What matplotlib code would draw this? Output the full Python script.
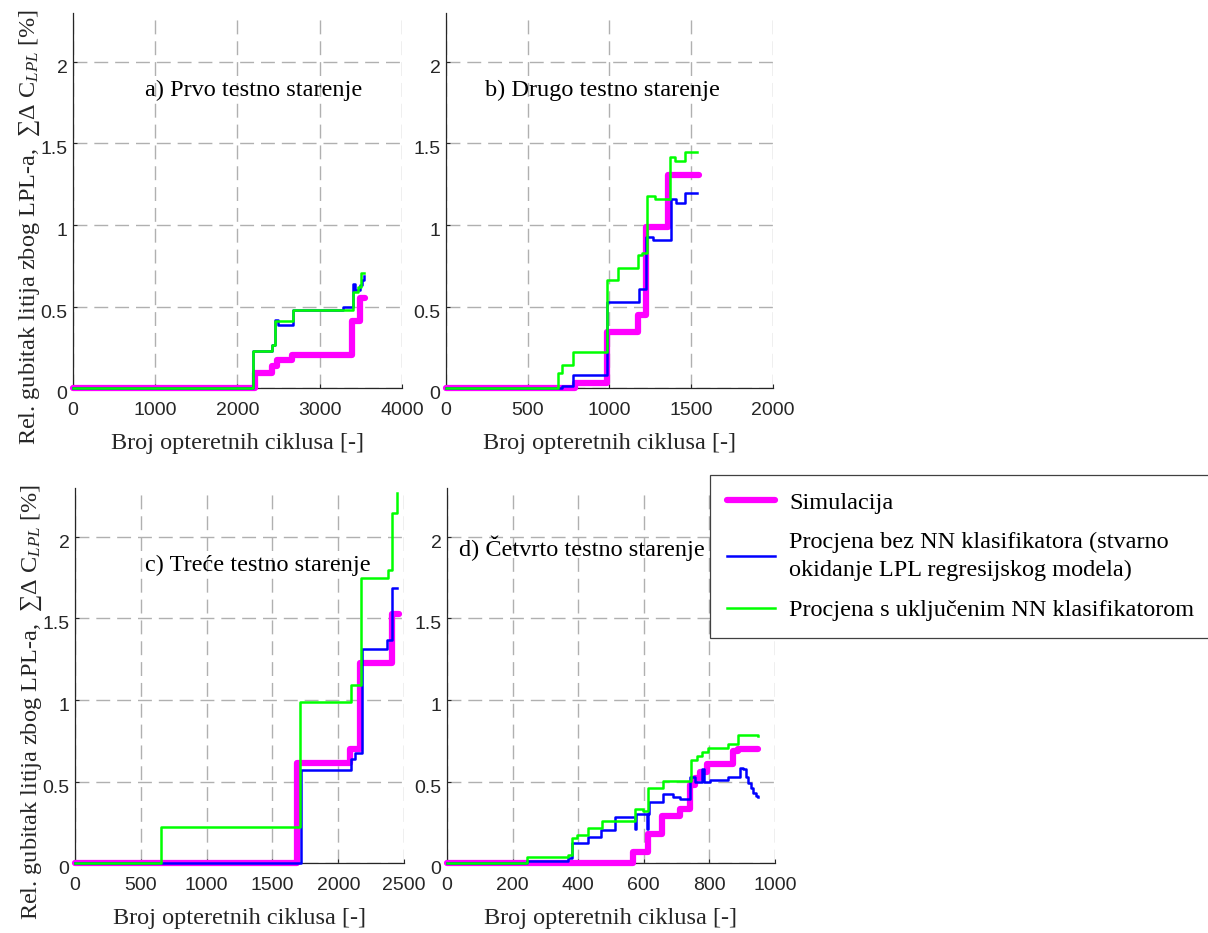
import matplotlib.pyplot as plt
from matplotlib.ticker import FormatStrFormatter
from matplotlib.lines import Line2D
from matplotlib.transforms import ScaledTranslation

plt.rcParams['mathtext.fontset'] = 'custom'
plt.rcParams['mathtext.rm'] = 'Liberation Serif'
plt.rcParams['mathtext.it'] = 'Liberation Serif:italic'

SERIF = ['Liberation Serif', 'DejaVu Serif']
SANS = ['Liberation Sans', 'DejaVu Sans']

# a) Prvo testno starenje
sim_a_x = [0, 2213, 2416, 2476, 2659, 3388, 3489, 3550]
sim_a_y = [0, 0.09, 0.135, 0.17, 0.20, 0.41, 0.555, 0.555]
bez_a_x = [0, 2192, 2416, 2456, 2497, 2679, 3287, 3409, 3430, 3490, 3510, 3540]
bez_a_y = [0, 0.23, 0.265, 0.42, 0.385, 0.48, 0.495, 0.64, 0.60, 0.63, 0.66, 0.69]
nn_a_x = [0, 2192, 2416, 2456, 2679, 3409, 3470, 3500, 3540]
nn_a_y = [0, 0.23, 0.265, 0.41, 0.48, 0.59, 0.62, 0.705, 0.705]

# b) Drugo testno starenje
sim_b_x = [0, 789, 983, 1176, 1223, 1360, 1549]
sim_b_y = [0, 0.03, 0.345, 0.45, 0.985, 1.307, 1.307]
bez_b_x = [0, 708, 779, 983, 1180, 1223, 1268, 1374, 1407, 1462, 1537]
bez_b_y = [0, 0.01, 0.08, 0.525, 0.607, 0.925, 0.91, 1.16, 1.137, 1.195, 1.195]
nn_b_x = [0, 687, 708, 779, 983, 1054, 1176, 1197, 1227, 1278, 1370, 1401, 1462, 1537]
nn_b_y = [0, 0.09, 0.14, 0.22, 0.66, 0.735, 0.816, 0.826, 1.18, 1.157, 1.415, 1.395, 1.45, 1.45]

# c) Treće testno starenje
sim_c_x = [0, 1689, 2090, 2165, 2406, 2464]
sim_c_y = [0, 0.613, 0.70, 1.228, 1.526, 1.526]
bez_c_x = [0, 1715, 2095, 2128, 2178, 2368, 2411, 2449]
bez_c_y = [0, 0.572, 0.64, 0.675, 1.315, 1.366, 1.684, 1.684]
nn_c_x = [0, 653, 1710, 2095, 2171, 2381, 2406, 2444, 2449]
nn_c_y = [0, 0.22, 0.986, 1.09, 1.746, 1.80, 2.148, 2.27, 2.27]

# d) Četvrto testno starenje
sim_d_x = [0, 568, 614, 655, 710, 741, 756, 771, 792, 873, 888, 949]
sim_d_y = [0, 0.07, 0.18, 0.29, 0.33, 0.48, 0.52, 0.56, 0.61, 0.685, 0.70, 0.70]
bez_d_x = [0, 243, 370, 380, 431, 469, 512, 527, 573, 577, 609, 613, 617, 658, 690,
           710, 741, 756, 777, 784, 802, 858, 893, 903, 913, 919, 926, 934, 941, 949]
bez_d_y = [0, 0.01, 0.03, 0.12, 0.16, 0.20, 0.285, 0.28, 0.21, 0.30, 0.21, 0.30, 0.377, 0.425, 0.405,
           0.39, 0.53, 0.50, 0.576, 0.50, 0.51, 0.525, 0.58, 0.575, 0.53, 0.49, 0.46, 0.43, 0.41, 0.405]
nn_d_x = [0, 243, 370, 380, 395, 431, 472, 573, 599, 614, 659, 744, 761, 777, 797, 858, 886, 949]
nn_d_y = [0, 0.035, 0.05, 0.152, 0.17, 0.213, 0.26, 0.33, 0.32, 0.46, 0.506, 0.63, 0.655, 0.68,
          0.705, 0.73, 0.787, 0.78]

panels = [
    ('a) Prvo testno starenje', sim_a_x, sim_a_y, bez_a_x, bez_a_y, nn_a_x, nn_a_y,
     [0, 1000, 2000, 3000, 4000], (0.55, 0.795)),
    ('b) Drugo testno starenje', sim_b_x, sim_b_y, bez_b_x, bez_b_y, nn_b_x, nn_b_y,
     [0, 500, 1000, 1500, 2000], (0.477, 0.795)),
    ('c) Treće testno starenje', sim_c_x, sim_c_y, bez_c_x, bez_c_y, nn_c_x, nn_c_y,
     [0, 500, 1000, 1500, 2000, 2500], (0.556, 0.795)),
    ('d) Četvrto testno starenje', sim_d_x, sim_d_y, bez_d_x, bez_d_y, nn_d_x, nn_d_y,
     [0, 200, 400, 600, 800, 1000], (0.41, 0.84)),
]
positions = [
    [0.0604, 0.5841, 0.2724, 0.4019],
    [0.3692, 0.5841, 0.2707, 0.4019],
    [0.0621, 0.0750, 0.2724, 0.4019],
    [0.3700, 0.0750, 0.2715, 0.4019],
]

c_sim, c_bez, c_nn = '#ff00ff', '#0000ff', '#00ff00'
axcol = '#262626'

fig = plt.figure(figsize=(12.08, 9.33), dpi=100)
shift_down = ScaledTranslation(0, -0.045, fig.dpi_scale_trans)

for i, (title, sx, sy, bx, by, nx, ny, xt, tpos) in enumerate(panels):
    ax = fig.add_axes(positions[i])
    ax.plot(sx, sy, drawstyle='steps-post', color=c_sim, lw=4.5,
            solid_capstyle='round', clip_on=False, zorder=3)
    ax.plot(bx, by, drawstyle='steps-post', color=c_bez, lw=1.8, clip_on=False, zorder=4)
    ax.plot(nx, ny, drawstyle='steps-post', color=c_nn, lw=1.8, clip_on=False, zorder=5)
    ax.set_xlim(xt[0], xt[-1])
    ax.set_ylim(0, 2.3)
    ax.set_xticks(xt)
    ax.set_yticks([0, 0.5, 1, 1.5, 2])
    ax.yaxis.set_major_formatter(FormatStrFormatter('%g'))
    ax.grid(True, color='#b0b0b0', lw=1, linestyle=(0, (10, 5)))
    ax.set_axisbelow(True)
    for s in ['top', 'right']:
        ax.spines[s].set_visible(False)
    for s in ['left', 'bottom']:
        ax.spines[s].set_color(axcol)
        ax.spines[s].set_linewidth(0.9)
    ax.tick_params(direction='in', length=3, colors=axcol, labelsize=14)
    ax.tick_params(axis='x', pad=10)
    ax.tick_params(axis='y', pad=4)
    for lab in ax.get_xticklabels():
        lab.set_family(SANS)
    for lab in ax.get_yticklabels():
        lab.set_family(SANS)
        lab.set_transform(lab.get_transform() + shift_down)
    ax.set_xlabel('Broj opteretnih ciklusa [-]', family=SERIF, fontsize=17.5,
                  color=axcol, labelpad=10)
    if i in (0, 2):
        ax.set_ylabel('Rel. gubitak litija zbog LPL-a,  ∑Δ C$_{LPL}$ [%]',
                      family=SERIF, fontsize=17.5, color=axcol)
        ax.yaxis.set_label_coords(-0.095, 0.43)
    ax.text(tpos[0], tpos[1], title, transform=ax.transAxes, family=SERIF,
            fontsize=17.5, ha='center', va='center', color='black')

handles = [Line2D([], [], color=c_sim, lw=4.5, solid_capstyle='round'),
           Line2D([], [], color=c_bez, lw=1.8),
           Line2D([], [], color=c_nn, lw=1.8)]
labels = ['Simulacija',
          'Procjena bez NN klasifikatora (stvarno\nokidanje LPL regresijskog modela)',
          'Procjena s uključenim NN klasifikatorom']
leg = fig.legend(handles, labels, loc='upper left', bbox_to_anchor=(0.588, 0.491),
                 prop={'family': SERIF, 'size': 17.5}, frameon=True, fancybox=False,
                 edgecolor='#404040', framealpha=1, handlelength=1.95,
                 handletextpad=0.6, borderpad=0.7, labelspacing=0.75,
                 borderaxespad=0)
for t in leg.get_texts():
    t.set_linespacing(1.4)
leg.get_frame().set_linewidth(0.9)

plt.savefig('out.png', dpi=100)
